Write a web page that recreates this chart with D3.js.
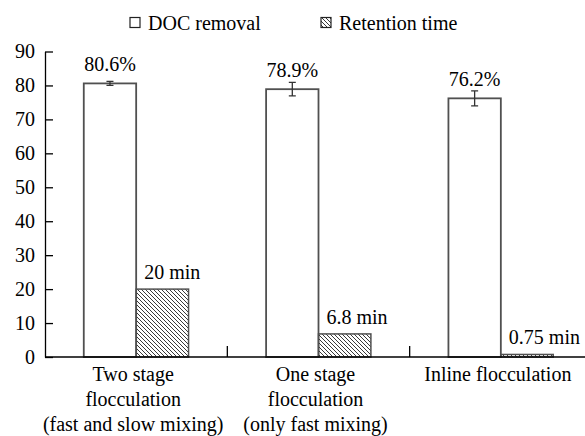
<!DOCTYPE html>
<html>
<head>
<meta charset="utf-8">
<script src="https://cdn.jsdelivr.net/npm/d3@7/dist/d3.min.js"></script>
<style>
  @font-face { font-family: "ChartSerif"; src: local("Liberation Serif"), local("LiberationSerif"), local("Times New Roman"); }
  html, body { margin: 0; padding: 0; background: #fff; font-family: "Liberation Serif", serif; }
  svg, svg text, svg tspan { font-family: "ChartSerif", "Liberation Serif", serif; }
</style>
</head>
<body>
<svg id="chart" width="585" height="436" style="font-family: Liberation Serif"></svg>
<script>
// Flocculation modes compared on DOC removal (%) and retention time (min)
const categories = [
  ["Two stage", "flocculation", "(fast and slow mixing)"],
  ["One stage", "flocculation", "(only fast mixing)"],
  ["Inline flocculation"]
];
const docRemoval = [80.6, 78.9, 76.2];
const docError = [0.6, 2.0, 2.2];
const docLabels = ["80.6%", "78.9%", "76.2%"];
const retentionTime = [20, 6.8, 0.75];
const retentionLabels = ["20 min", "6.8 min", "0.75 min"];
const seriesNames = ["DOC removal", "Retention time"];
const yTicks = [0, 10, 20, 30, 40, 50, 60, 70, 80, 90];

const svg = d3.select("#chart");
const barStroke = "#505050";

function styleText(sel) {
  return sel.style("font-family", "Liberation Serif").attr("font-size", 20);
}

// hatch pattern for the retention-time bars
const defs = svg.append("defs");
defs.append("pattern")
  .attr("id", "hatch")
  .attr("patternUnits", "userSpaceOnUse")
  .attr("width", 4).attr("height", 4)
  .append("path")
  .attr("d", "M-1,-1 L5,5 M3,-1 L5,1 M-1,3 L1,5")
  .attr("stroke", "#222").attr("stroke-width", 0.9);

const x0 = 45, x1 = 592, yBase = 357, yTop = 51.5;
const keys = categories.map((d, i) => "c" + i);

const x = d3.scaleBand().domain(keys).range([x0, x1]).paddingInner(0).paddingOuter(0);
const xs = d3.scaleBand().domain(["doc", "ret"]).range([0, x.bandwidth()])
  .paddingInner(0).paddingOuter(0.74);
const y = d3.scaleLinear().domain([0, 90]).range([yBase, yTop]);

// legend
const legendX = [130, 321];
seriesNames.forEach((name, i) => {
  svg.append("rect")
    .attr("x", legendX[i]).attr("y", 17.5)
    .attr("width", 10).attr("height", 10)
    .attr("fill", i === 0 ? "#fff" : "url(#hatch)")
    .attr("stroke", "#222").attr("stroke-width", 1.2);
  styleText(svg.append("text")
    .attr("x", legendX[i] + 18).attr("y", 30)
    .text(name));
});

// value labels above the bars
docRemoval.forEach((v, i) => {
  styleText(svg.append("text")
    .attr("x", x(keys[i]) + xs("doc") + xs.bandwidth() / 2)
    .attr("y", y(v) - 12)
    .attr("text-anchor", "middle")
    .text(docLabels[i]));
});
retentionTime.forEach((v, i) => {
  styleText(svg.append("text")
    .attr("x", x(keys[i]) + xs("ret") + 8)
    .attr("y", y(v) - 10)
    .text(retentionLabels[i]));
});

// category labels
categories.forEach((lines, i) => {
  const cx = x(keys[i]) + x.bandwidth() / 2 - 3;
  lines.forEach((line, j) => {
    styleText(svg.append("text")
      .attr("x", cx)
      .attr("y", 381 + j * 25)
      .attr("text-anchor", "middle")
      .text(line));
  });
});

// y axis with inward ticks
const yAxis = svg.append("g")
  .attr("transform", `translate(${x0},0)`)
  .call(d3.axisLeft(y).tickValues(yTicks).tickSizeInner(-8).tickSizeOuter(0).tickPadding(10));
yAxis.attr("font-family", null).attr("font-size", null);
yAxis.select(".domain").attr("stroke", "#000").attr("stroke-width", 1.3);
yAxis.selectAll(".tick line").attr("stroke", "#000").attr("stroke-width", 1.3);
styleText(yAxis.selectAll(".tick text")).attr("fill", "#000");

// DOC removal bars
svg.selectAll("rect.doc").data(docRemoval).join("rect")
  .attr("class", "doc")
  .attr("x", (d, i) => x(keys[i]) + xs("doc"))
  .attr("y", d => y(d))
  .attr("width", xs.bandwidth())
  .attr("height", d => y(0) - y(d))
  .attr("fill", "#fff").attr("stroke", barStroke).attr("stroke-width", 1.8);

// Retention time bars
svg.selectAll("rect.ret").data(retentionTime).join("rect")
  .attr("class", "ret")
  .attr("x", (d, i) => x(keys[i]) + xs("ret"))
  .attr("y", d => y(d))
  .attr("width", xs.bandwidth())
  .attr("height", d => y(0) - y(d))
  .attr("fill", "url(#hatch)").attr("stroke", barStroke).attr("stroke-width", 1.5);

// error bars on DOC removal
const cap = 3.5;
docRemoval.forEach((v, i) => {
  const cx = x(keys[i]) + xs("doc") + xs.bandwidth() / 2;
  const t = y(v + docError[i]), b = y(v - docError[i]);
  svg.append("path")
    .attr("d", `M${cx - cap},${t}H${cx + cap}M${cx},${t}V${b}M${cx - cap},${b}H${cx + cap}`)
    .attr("stroke", "#333").attr("stroke-width", 1.3).attr("fill", "none");
});

// x axis baseline and category dividers
svg.append("line")
  .attr("x1", x0).attr("x2", x1).attr("y1", yBase).attr("y2", yBase)
  .attr("stroke", "#000").attr("stroke-width", 1.3);
svg.selectAll("line.div").data(keys.slice(1)).join("line")
  .attr("class", "div")
  .attr("x1", d => x(d)).attr("x2", d => x(d))
  .attr("y1", yBase).attr("y2", yBase - 11)
  .attr("stroke", "#000").attr("stroke-width", 1.3);
</script>
</body>
</html>
